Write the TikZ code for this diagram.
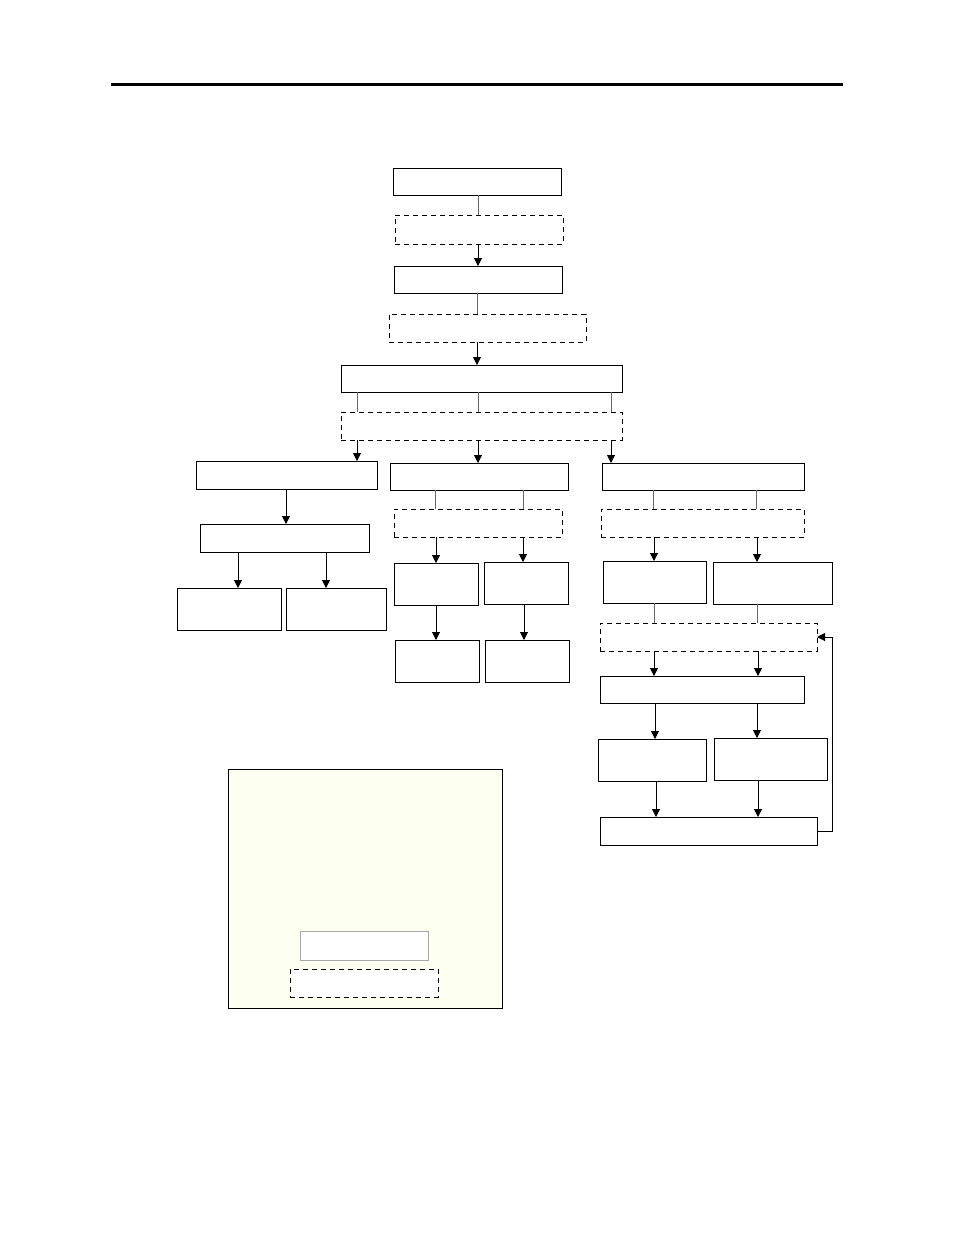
\documentclass[tikz,border=0pt]{standalone}
\usetikzlibrary{arrows.meta}
\definecolor{legendfill}{RGB}{253,255,240}
\newcommand\vc[4]{\coordinate (vctmp) at (#4,0);\draw[#1] (#2.south -| vctmp) -- (#3.north -| vctmp);}
\begin{document}
\begin{tikzpicture}[x=1pt,y=-1pt,
  box/.style={draw=black,line width=1pt,anchor=north west,inner sep=0pt,outer sep=0pt},
  dbox/.style={box,dash pattern=on 5pt off 4pt},
  conn/.style={draw=black!60,line width=1pt},
  arr/.style={draw=black,line width=1pt,-{Triangle[length=8pt,width=8pt]}}]
\useasboundingbox (0,0) rectangle (954,1235);
\draw[line width=3pt] (111,84) -- (843,84);
% main column
\node[box,minimum width=168pt,minimum height=27pt] (b1) at (393,168) {};
\node[dbox,minimum width=168pt,minimum height=29pt] (d1) at (395,215) {};
\node[box,minimum width=168pt,minimum height=27pt] (b2) at (394,266) {};
\node[dbox,minimum width=197pt,minimum height=28pt] (d2) at (389,314) {};
\node[box,minimum width=281pt,minimum height=27pt] (b3) at (341,365) {};
\node[dbox,minimum width=281pt,minimum height=28pt] (d3) at (341,412) {};
% left branch
\node[box,minimum width=181pt,minimum height=28pt] (l1) at (196,461) {};
\node[box,minimum width=169pt,minimum height=28pt] (l2) at (200,524) {};
\node[box,minimum width=104pt,minimum height=42pt] (l3a) at (177,588) {};
\node[box,minimum width=100pt,minimum height=42pt] (l3b) at (286,588) {};
% middle branch
\node[box,minimum width=178pt,minimum height=27pt] (m1) at (390,463) {};
\node[dbox,minimum width=168pt,minimum height=28pt] (d4) at (394,509) {};
\node[box,minimum width=84pt,minimum height=42pt] (m2a) at (394,563) {};
\node[box,minimum width=84pt,minimum height=42pt] (m2b) at (484,562) {};
\node[box,minimum width=84pt,minimum height=42pt] (m3a) at (395,640) {};
\node[box,minimum width=84pt,minimum height=42pt] (m3b) at (485,640) {};
% right branch
\node[box,minimum width=202pt,minimum height=27pt] (r1) at (602,463) {};
\node[dbox,minimum width=203pt,minimum height=28pt] (d5) at (601,509) {};
\node[box,minimum width=103pt,minimum height=42pt] (r2a) at (603,561) {};
\node[box,minimum width=119pt,minimum height=42pt] (r2b) at (713,562) {};
\node[dbox,minimum width=217pt,minimum height=28pt] (d6) at (600,623) {};
\node[box,minimum width=204pt,minimum height=27pt] (r3) at (600,676) {};
\node[box,minimum width=108pt,minimum height=42pt] (r4a) at (598,739) {};
\node[box,minimum width=113pt,minimum height=42pt] (r4b) at (714,738) {};
\node[box,minimum width=217pt,minimum height=28pt] (r5) at (600,817) {};
% legend
\node[box,fill=legendfill,minimum width=274pt,minimum height=239pt] (lg) at (228,769) {};
\node[box,draw=black!35,fill=white,minimum width=128pt,minimum height=29pt] (lg1) at (300,931) {};
\node[dbox,fill=white,minimum width=148pt,minimum height=28pt] (lg2) at (290,969) {};
% connectors
\vc{conn}{b1}{d1}{478}
\vc{arr}{d1}{b2}{478}
\vc{conn}{b2}{d2}{477}
\vc{arr}{d2}{b3}{477}
\vc{conn}{b3}{d3}{357}
\vc{conn}{b3}{d3}{478}
\vc{conn}{b3}{d3}{611}
\vc{arr}{d3}{l1}{357}
\vc{arr}{d3}{m1}{478}
\vc{arr}{d3}{r1}{611}
\vc{arr}{l1}{l2}{286}
\vc{arr}{l2}{l3a}{238}
\vc{arr}{l2}{l3b}{326}
\vc{conn}{m1}{d4}{435}
\vc{conn}{m1}{d4}{523}
\vc{arr}{d4}{m2a}{436}
\vc{arr}{d4}{m2b}{523}
\vc{arr}{m2a}{m3a}{436}
\vc{arr}{m2b}{m3b}{524}
\vc{conn}{r1}{d5}{653}
\vc{conn}{r1}{d5}{756}
\vc{arr}{d5}{r2a}{654}
\vc{arr}{d5}{r2b}{757}
\vc{conn}{r2a}{d6}{654}
\vc{conn}{r2b}{d6}{757}
\vc{arr}{d6}{r3}{654}
\vc{arr}{d6}{r3}{758}
\vc{arr}{r3}{r4a}{655}
\vc{arr}{r3}{r4b}{757}
\vc{arr}{r4a}{r5}{656}
\vc{arr}{r4b}{r5}{758}
\draw[arr] (r5.east) -- ++(15,0) |- (d6.east);
\end{tikzpicture}
\end{document}
